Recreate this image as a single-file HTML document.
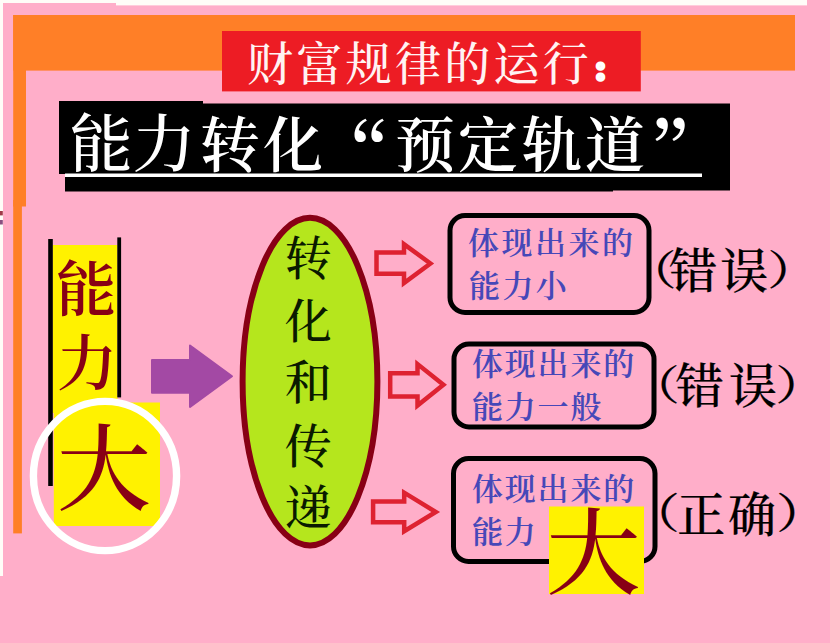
<!DOCTYPE html>
<html lang="zh-CN">
<head>
<meta charset="utf-8">
<title>财富规律的运行：能力转化“预定轨道”</title>
<style>
html,body{margin:0;padding:0;background:#FFAEC9;}
body{width:830px;height:643px;overflow:hidden;position:relative;}
svg{position:absolute;left:0;top:0;display:block;}
text{font-family:"Liberation Serif","Noto Serif CJK SC",serif;}
.t1{font-size:46px;fill:#FFF3F3;font-weight:500;letter-spacing:3.3px;}
.t2a{font-size:63px;fill:#fff;font-weight:500;}
.t2b{font-size:60px;fill:#fff;font-weight:600;}
.q{font-family:"Noto Serif CJK SC",serif;font-weight:500;}
.v1{font-size:60px;fill:#880015;font-weight:600;}
.big{font-size:94px;fill:#880015;font-weight:500;}
.ov{font-size:47px;fill:#0a1a00;font-weight:500;}
.bx{font-size:31px;fill:#4648B8;font-weight:600;letter-spacing:1.8px;}
.lb{font-size:48px;fill:#000;font-weight:500;stroke:#000;stroke-width:0.2px;}
</style>
</head>
<body>
<svg width="830" height="643" viewBox="0 0 830 643">
  <rect x="0" y="0" width="830" height="643" fill="#FFAEC9"/>
  <!-- white scraps -->
  <rect x="0" y="0" width="116" height="3" fill="#FFFDF8"/>
  <rect x="116" y="0" width="691" height="5.4" fill="#FFFDF8"/>
  <rect x="0" y="0" width="3" height="576" fill="#FFFDF8"/>
  <rect x="0" y="211" width="2.8" height="4.4" fill="#A03A48"/>
  <rect x="0" y="220" width="2.8" height="4.5" fill="#8A5080"/>
  <!-- orange L -->
  <rect x="13.2" y="15" width="781.8" height="55.6" fill="#FF7F27"/>
  <rect x="13.2" y="15" width="12.8" height="191.5" fill="#FF7F27"/>
  <rect x="13.2" y="200" width="8.7" height="333.4" fill="#FF7F27"/>
  <!-- red title -->
  <rect x="222" y="31" width="418.8" height="60.4" fill="#ED1C24"/>
  <text class="t1" x="247" y="79.5">财富规律的运行<tspan x="592.4" y="80.6" font-weight="900" font-size="28" stroke="#fff" stroke-width="3.7">：</tspan></text>
  <!-- black title -->
  <rect x="59" y="101" width="144" height="73" fill="#000"/>
  <rect x="203" y="103.5" width="527" height="87" fill="#000"/>
  <rect x="65" y="174" width="548" height="17.5" fill="#000"/>
  <rect x="65" y="173.5" width="637" height="3.5" fill="#fff"/>
  <text class="t2a" x="69.5 132.5" y="166">能力</text>
  <text class="t2b" y="167"><tspan x="200 263">转化</tspan><tspan class="q" x="309.7" y="186.7" font-size="80">“</tspan><tspan x="395 458 522 585" y="167">预定轨道</tspan><tspan class="q" x="649.4" y="186.3" font-size="80">”</tspan></text>
  <!-- left column -->
  <rect x="52.5" y="245" width="65" height="168" fill="#FFF200"/>
  <rect x="53.8" y="402.5" width="106.2" height="123.5" fill="#FFF200"/>
  <rect x="48.2" y="239" width="4.6" height="247" fill="#000"/>
  <rect x="117.3" y="237.4" width="3.8" height="160" fill="#000"/>
  <text class="v1" x="56" y="310.5">能</text>
  <text class="v1" x="57" y="384.5">力</text>
  <text class="big" x="57" y="503">大</text>
  <ellipse cx="105" cy="476" rx="71.6" ry="74.6" fill="none" stroke="#fff" stroke-width="7.4"/>
  <!-- purple arrow -->
  <polygon points="152,360 190,360 190,345.5 232,376.2 190,407 190,392.8 152,392.8" fill="#A349A4" stroke="#A349A4" stroke-width="2" stroke-linejoin="round"/>
  <!-- ellipse -->
  <ellipse cx="310" cy="381.6" rx="67.4" ry="163.8" fill="#B5E61D" stroke="#880015" stroke-width="6"/>
  <text class="ov" x="284.7" y="275">转</text>
  <text class="ov" x="284.7" y="337.5">化</text>
  <text class="ov" x="284.7" y="398.5">和</text>
  <text class="ov" x="284.7" y="462.5">传</text>
  <text class="ov" x="284.7" y="523.8">递</text>
  <!-- red arrows -->
  <g fill="none" stroke="#DE2231" stroke-width="4.5" stroke-linejoin="miter">
    <polygon points="376.5,252.5 404,252.5 404,244.1 430.4,263.5 404,283 404,273.8 376.5,273.8"/>
    <polygon points="390.2,373.3 417.5,373.3 417.5,364.1 443.4,384.85 417.5,405.6 417.5,396.6 390.2,396.6"/>
    <polygon points="373.1,501.4 404.2,501.4 404.2,492.7 435.8,512 404.2,531.2 404.2,522.3 373.1,522.3"/>
  </g>
  <!-- boxes -->
  <g fill="none" stroke="#000" stroke-width="5">
    <rect x="450" y="215.5" width="199" height="97" rx="15" ry="15"/>
    <rect x="454" y="344" width="200" height="83" rx="15" ry="15"/>
    <rect x="453.5" y="458.5" width="201.5" height="103" rx="15" ry="15"/>
  </g>
  <text class="bx" x="468" y="254" style="letter-spacing:2.5px">体现出来的</text>
  <text class="bx" x="469" y="296.5" style="letter-spacing:2.4px">能力小</text>
  <text class="bx" x="472" y="374.5">体现出来的</text>
  <text class="bx" x="472" y="417.5">能力一般</text>
  <text class="bx" x="472" y="499.5">体现出来的</text>
  <text class="bx" x="472" y="542.5">能力</text>
  <rect x="549" y="506.5" width="95" height="87.5" fill="#FFF200"/>
  <text class="big" x="546.5" y="587">大</text>
  <!-- labels -->
  <text class="lb" transform="translate(624.7,284.9) scale(1.08,0.853)">（</text><text class="lb" x="669.3 720.2" y="288">错误</text><text class="lb" transform="translate(767.2,284.9) scale(1.08,0.853)">）</text>
  <text class="lb" transform="translate(628,399.9) scale(1.08,0.853)">（</text><text class="lb" x="675.8 729" y="403">错误</text><text class="lb" transform="translate(775.2,399.9) scale(1.08,0.853)">）</text>
  <text class="lb" transform="translate(628,528.4) scale(1.08,0.87)">（</text><text class="lb" x="677.2 728" y="531.5">正确</text><text class="lb" transform="translate(776,528.4) scale(1.08,0.87)">）</text>
</svg>
</body>
</html>
